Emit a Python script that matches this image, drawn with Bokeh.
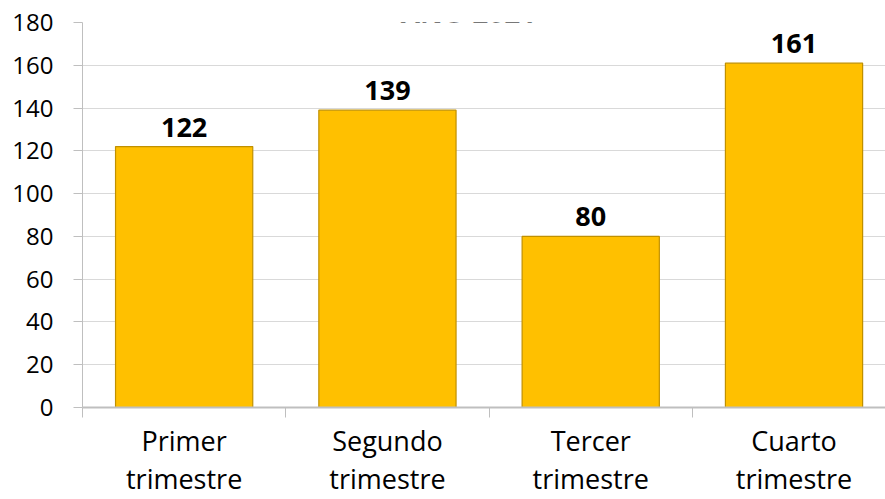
from bokeh.plotting import figure
from bokeh.models import Range1d, FixedTicker, Label, ColumnDataSource
from bokeh.core.properties import value
from bokeh.embed import file_html
from bokeh.resources import INLINE

categories = ["Primer\ntrimestre", "Segundo\ntrimestre", "Tercer\ntrimestre", "Cuarto\ntrimestre"]
values = [122, 139, 80, 161]
title_text = "AÑO 2021"
y_ticks = [0, 20, 40, 60, 80, 100, 120, 140, 160, 180]

xs = [i + 0.5 for i in range(len(categories))]
src = ColumnDataSource(dict(x=xs, top=values, lab=[str(v) for v in values]))

FONT = "Open Sans"

p = figure(width=885, height=499, output_backend="svg", toolbar_location=None,
           x_range=Range1d(0, 3.95), y_range=Range1d(0, 180),
           min_border_left=82, min_border_right=0, min_border_top=22, min_border_bottom=92)
p.outline_line_color = None
p.background_fill_color = "white"
p.border_fill_color = "white"

p.vbar(x="x", top="top", width=0.675, source=src, fill_color="#FFC000",
       line_color="#C09000", line_width=1.2)
p.text(x="x", y="top", text="lab", source=src, text_align="center", text_baseline="bottom",
       y_offset=-10, text_font=value(FONT), text_font_style="bold", text_font_size="27px",
       text_color="#000000")

# x axis
xa = p.xaxis[0]
xa.ticker = FixedTicker(ticks=xs, minor_ticks=[0, 1, 2, 3, 4])
xa.major_label_overrides = {x: c for x, c in zip(xs, categories)}
xa.major_tick_line_color = None
xa.major_tick_out = 0
xa.major_tick_in = 0
xa.minor_tick_line_color = "#bfbfbf"
xa.minor_tick_line_width = 1
xa.minor_tick_out = 10
xa.minor_tick_in = 0
xa.axis_line_color = "#bfbfbf"
xa.axis_line_width = 2
xa.major_label_text_font = FONT
xa.major_label_text_font_size = "27px"
xa.major_label_text_color = "#000000"
xa.major_label_standoff = 4
xa.major_label_text_line_height = 1.04

# y axis
ya = p.yaxis[0]
ya.ticker = FixedTicker(ticks=y_ticks)
ya.axis_line_color = "#bfbfbf"
ya.major_tick_line_color = "#bfbfbf"
ya.major_tick_out = 9
ya.major_tick_in = 0
ya.minor_tick_line_color = None
ya.major_label_text_font = FONT
ya.major_label_text_font_size = "24px"
ya.major_label_text_color = "#000000"
ya.major_label_standoff = 20

p.xgrid.grid_line_color = None
p.ygrid.grid_line_color = "#d9d9d9"
p.ygrid.ticker = FixedTicker(ticks=y_ticks)

# title: positioned relative to the frame (frame spans 385px high, left edge at 82)
title = Label(x=468 - 82, y=385 + 11, x_units="screen", y_units="screen", text=title_text,
              text_align="center", text_baseline="alphabetic", text_font=FONT,
              text_font_style="bold", text_font_size="28px", text_color="#000000")
p.add_layout(title)

open("out.html", "w").write(file_html(p, INLINE))
